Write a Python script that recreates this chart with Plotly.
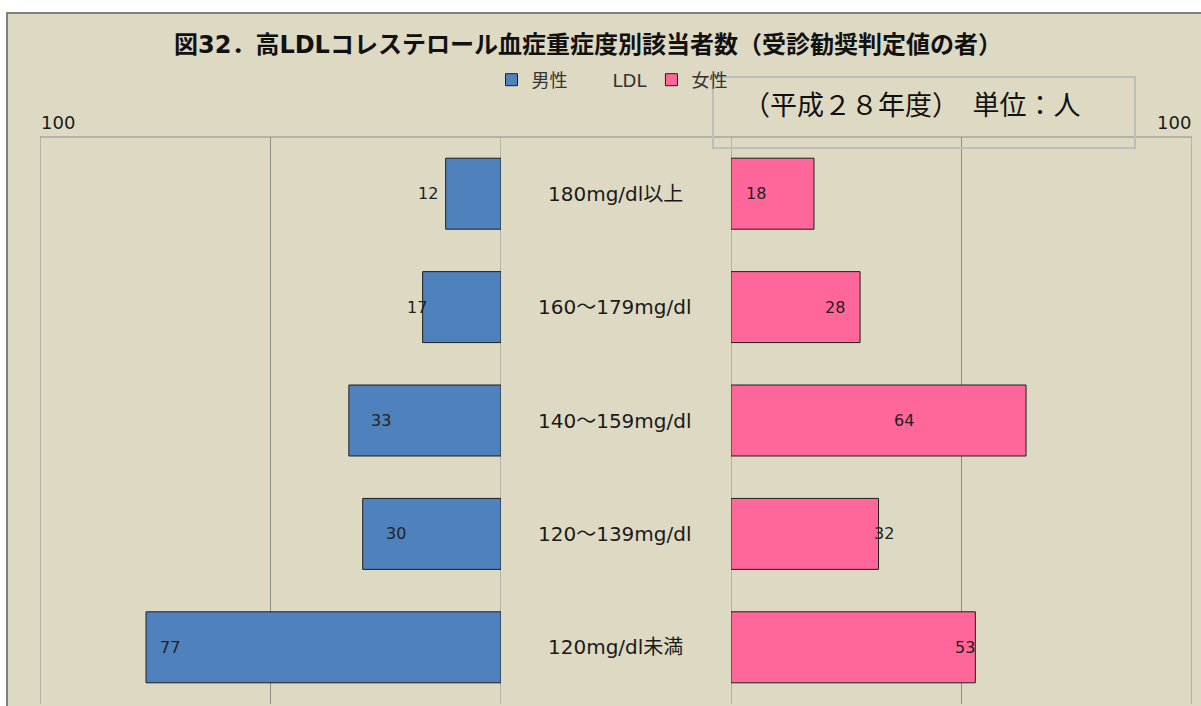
import plotly.graph_objects as go

# LDL cholesterol severity bands (top to bottom) and head counts per sex
categories = ["180mg/dl以上", "160～179mg/dl", "140～159mg/dl", "120～139mg/dl", "120mg/dl未満"]
male = [12, 17, 33, 30, 77]
female = [18, 28, 64, 32, 53]
axis_max = 100
grid_values = [0, 50, 100]

# horizontal nudges (px) of each value label relative to its bar end
male_label_shift = [-18, -6, 32, 33, 24]
female_label_shift = [-58, -25, -122, 5, -10]

W, H = 1201, 706
BG = "#DDD9C3"
GRID = "#8C8C8C"
SANS = "DejaVu Sans, Noto Sans CJK JP, sans-serif"


def px_x(v):
    return v / W


def px_y(v):
    return 1 - v / H


fig = go.Figure()

fig.add_trace(go.Bar(
    x=male, y=categories, orientation="h", name="男性",
    xaxis="x", yaxis="y",
    marker=dict(color="#4F81BD", line=dict(color="#1F1F1F", width=1)),
    hoverinfo="x+y",
))
fig.add_trace(go.Scatter(
    x=[None], y=[categories[0]], name="LDL", mode="markers",
    xaxis="x2", yaxis="y",
    marker=dict(color="rgba(0,0,0,0)", size=1),
))
fig.add_trace(go.Bar(
    x=female, y=categories, orientation="h", name="女性",
    xaxis="x2", yaxis="y",
    marker=dict(color="#FF6699", line=dict(color="#1F1F1F", width=1)),
    hoverinfo="x+y",
))

annotations = []

# band labels in the centre gap
for cat in categories:
    annotations.append(dict(
        x=px_x(615), xref="paper", y=cat, yref="y",
        text=cat, showarrow=False, xanchor="center", yanchor="middle",
        font=dict(family=SANS, size=20, color="#1A1A1A"),
    ))

# value labels
for cat, v, s in zip(categories, male, male_label_shift):
    annotations.append(dict(
        x=v, xref="x", y=cat, yref="y", xshift=s,
        text=str(v), showarrow=False, xanchor="center", yanchor="middle",
        font=dict(family=SANS, size=16, color="#222222"),
    ))
for cat, v, s in zip(categories, female, female_label_shift):
    annotations.append(dict(
        x=v, xref="x2", y=cat, yref="y", xshift=s,
        text=str(v), showarrow=False, xanchor="center", yanchor="middle",
        font=dict(family=SANS, size=16, color="#222222"),
    ))

# axis maximum labels at both outer ends
annotations.append(dict(
    x=px_x(39), xref="paper", y=px_y(122), yref="paper",
    text=str(axis_max), showarrow=False, xanchor="left", yanchor="middle",
    font=dict(family=SANS, size=18, color="#1A1A1A"),
))
annotations.append(dict(
    x=px_x(1193), xref="paper", y=px_y(122), yref="paper",
    text=str(axis_max), showarrow=False, xanchor="right", yanchor="middle",
    font=dict(family=SANS, size=18, color="#1A1A1A"),
))

# title
annotations.append(dict(
    x=px_x(588), xref="paper", y=px_y(45), yref="paper",
    text="<b>図32．高LDLコレステロール血症重症度別該当者数（受診勧奨判定値の者）</b>",
    showarrow=False, xanchor="center", yanchor="middle",
    font=dict(family=SANS, size=24, color="#111111"),
))

# year / unit note inside its frame
annotations.append(dict(
    x=px_x(912), xref="paper", y=px_y(106), yref="paper",
    text="（平成２８年度）　単位：人",
    showarrow=False, xanchor="center", yanchor="middle",
    font=dict(family="Liberation Serif, Noto Sans CJK JP, serif", size=27, color="#111111"),
))

shapes = [
    # chart area background with border
    dict(type="rect", xref="paper", yref="paper",
         x0=px_x(7), x1=1.02, y0=-0.02, y1=px_y(13),
         fillcolor=BG, line=dict(color="#7F7F7F", width=2), layer="below"),
    # top edge of plot area spanning both halves
    dict(type="line", xref="paper", yref="paper",
         x0=px_x(40), x1=px_x(1192), y0=px_y(137), y1=px_y(137),
         line=dict(color=GRID, width=1), layer="below"),
    # frame around the year / unit note
    dict(type="rect", xref="paper", yref="paper",
         x0=px_x(713), x1=px_x(1135), y0=px_y(148), y1=px_y(77),
         line=dict(color="#BDBDBD", width=2), fillcolor="rgba(0,0,0,0)", layer="above"),
]

# vertical grid lines on both halves (incl. the range ends)
for axref in ("x", "x2"):
    for g in grid_values:
        shapes.append(dict(
            type="line", xref=axref, yref="paper",
            x0=g, x1=g, y0=px_y(704), y1=px_y(137),
            line=dict(color=GRID, width=1), layer="below",
        ))

axis_common = dict(
    showgrid=False, showticklabels=False, zeroline=False, showline=False,
    ticks="", fixedrange=True,
)

fig.update_layout(
    width=W, height=H,
    margin=dict(l=0, r=0, t=0, b=0),
    paper_bgcolor="white",
    plot_bgcolor="rgba(0,0,0,0)",
    barmode="overlay",
    bargap=0.374,
    xaxis=dict(domain=[px_x(40), px_x(501)], range=[axis_max, 0], anchor="y", **axis_common),
    xaxis2=dict(domain=[px_x(731), px_x(1192)], range=[0, axis_max], anchor="y", **axis_common),
    yaxis=dict(domain=[px_y(704), px_y(137)], type="category",
               range=[len(categories) - 0.5, -0.5],
               showgrid=False, showticklabels=False, zeroline=False,
               showline=False, ticks="", fixedrange=True),
    legend=dict(orientation="h", x=px_x(612), xanchor="center",
                y=px_y(80), yanchor="middle", bgcolor="rgba(0,0,0,0)",
                font=dict(family=SANS, size=18, color="#333333"),
                traceorder="normal"),
    annotations=annotations,
    shapes=shapes,
)

fig.write_html("out.html")
